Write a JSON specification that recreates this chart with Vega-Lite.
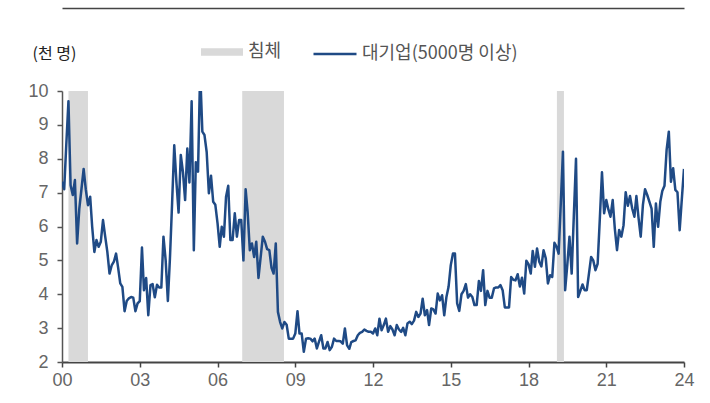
{
  "$schema": "https://vega.github.io/schema/vega-lite/v6.json",
  "width": 622,
  "height": 271,
  "autosize": "none",
  "padding": {"left": 62, "top": 91, "right": 26, "bottom": 41},
  "background": "white",
  "config": {"view": {"stroke": null}},
  "resolve": {"axis": {"x": "independent"}},
  "layer": [
    {
      "data": {"values": [
        {"s": "2000-04-01", "e": "2001-01-01", "k": "침체"},
        {"s": "2006-12-15", "e": "2008-07-25", "k": "침체"},
        {"s": "2019-02-05", "e": "2019-05-15", "k": "침체"}
      ]},
      "mark": {"type": "rect", "fill": "#d9d9d9"},
      "encoding": {
        "x": {"field": "s", "type": "temporal",
          "scale": {"type": "utc", "domain": [{"year": 2000, "utc": true}, {"year": 2024, "utc": true}]},
          "axis": {"orient": "top", "offset": 83, "labels": false, "ticks": false, "grid": false, "title": null, "domainColor": "#444", "domainWidth": 1.5}},
        "x2": {"field": "e"},
        "fill": {"field": "k", "type": "nominal",
          "scale": {"range": ["#d9d9d9"]},
          "legend": {"orient": "none", "legendX": 139, "legendY": -60, "title": null, "padding": 0,
            "symbolType": "M-1,-0.18H1V0.18H-1Z", "symbolSize": 1764, "symbolStrokeWidth": 0,
            "labelFont": "Noto Sans CJK KR", "labelFontSize": 18, "labelColor": "#555", "labelOffset": 5}}
      }
    },
    {
      "data": {"values": [
        {"d":"2000-01","v":7.32},{"d":"2000-02","v":7.1},{"d":"2000-03","v":8.4},{"d":"2000-04","v":9.7},{"d":"2000-05","v":7.22},{"d":"2000-06","v":6.93},{"d":"2000-07","v":7.37},{"d":"2000-08","v":5.5},{"d":"2000-09","v":6.53},{"d":"2000-10","v":7.1},{"d":"2000-11","v":7.7},{"d":"2000-12","v":7.1},
        {"d":"2001-01","v":6.63},{"d":"2001-02","v":6.88},{"d":"2001-03","v":6.0},{"d":"2001-04","v":5.25},{"d":"2001-05","v":5.6},{"d":"2001-06","v":5.4},{"d":"2001-07","v":5.55},{"d":"2001-08","v":6.19},{"d":"2001-09","v":5.7},{"d":"2001-10","v":5.25},{"d":"2001-11","v":4.61},{"d":"2001-12","v":4.85},
        {"d":"2002-01","v":4.96},{"d":"2002-02","v":5.2},{"d":"2002-03","v":4.8},{"d":"2002-04","v":4.32},{"d":"2002-05","v":4.22},{"d":"2002-06","v":3.5},{"d":"2002-07","v":3.8},{"d":"2002-08","v":3.88},{"d":"2002-09","v":3.92},{"d":"2002-10","v":3.9},{"d":"2002-11","v":3.5},{"d":"2002-12","v":3.73},
        {"d":"2003-01","v":3.8},{"d":"2003-02","v":5.38},{"d":"2003-03","v":4.12},{"d":"2003-04","v":4.48},{"d":"2003-05","v":3.38},{"d":"2003-06","v":4.27},{"d":"2003-07","v":4.3},{"d":"2003-08","v":3.91},{"d":"2003-09","v":4.28},{"d":"2003-10","v":4.2},{"d":"2003-11","v":4.2},{"d":"2003-12","v":5.7},
        {"d":"2004-01","v":5.0},{"d":"2004-02","v":3.8},{"d":"2004-03","v":5.05},{"d":"2004-04","v":6.7},{"d":"2004-05","v":8.4},{"d":"2004-06","v":7.3},{"d":"2004-07","v":6.41},{"d":"2004-08","v":8.11},{"d":"2004-09","v":7.6},{"d":"2004-10","v":6.78},{"d":"2004-11","v":8.3},{"d":"2004-12","v":7.3},
        {"d":"2005-01","v":9.7},{"d":"2005-02","v":5.3},{"d":"2005-03","v":7.9},{"d":"2005-04","v":7.62},{"d":"2005-05","v":10.6},{"d":"2005-06","v":8.8},{"d":"2005-07","v":8.7},{"d":"2005-08","v":8.2},{"d":"2005-09","v":6.98},{"d":"2005-10","v":7.5},{"d":"2005-11","v":6.73},{"d":"2005-12","v":6.64},
        {"d":"2006-01","v":6.1},{"d":"2006-02","v":5.4},{"d":"2006-03","v":5.99},{"d":"2006-04","v":5.7},{"d":"2006-05","v":6.88},{"d":"2006-06","v":7.2},{"d":"2006-07","v":5.6},{"d":"2006-08","v":5.6},{"d":"2006-09","v":6.39},{"d":"2006-10","v":5.7},{"d":"2006-11","v":6.19},{"d":"2006-12","v":6.19},
        {"d":"2007-01","v":5.0},{"d":"2007-02","v":7.1},{"d":"2007-03","v":6.43},{"d":"2007-04","v":5.3},{"d":"2007-05","v":5.5},{"d":"2007-06","v":5.1},{"d":"2007-07","v":5.55},{"d":"2007-08","v":4.48},{"d":"2007-09","v":5.1},{"d":"2007-10","v":5.7},{"d":"2007-11","v":5.55},{"d":"2007-12","v":5.33},
        {"d":"2008-01","v":5.3},{"d":"2008-02","v":4.78},{"d":"2008-03","v":4.61},{"d":"2008-04","v":5.5},{"d":"2008-05","v":3.48},{"d":"2008-06","v":3.18},{"d":"2008-07","v":2.99},{"d":"2008-08","v":3.18},{"d":"2008-09","v":3.1},{"d":"2008-10","v":2.69},{"d":"2008-11","v":2.69},{"d":"2008-12","v":2.69},
        {"d":"2009-01","v":2.84},{"d":"2009-02","v":3.5},{"d":"2009-03","v":2.84},{"d":"2009-04","v":2.84},{"d":"2009-05","v":2.3},{"d":"2009-06","v":2.69},{"d":"2009-07","v":2.7},{"d":"2009-08","v":2.69},{"d":"2009-09","v":2.61},{"d":"2009-10","v":2.69},{"d":"2009-11","v":2.4},{"d":"2009-12","v":2.6},
        {"d":"2010-01","v":2.79},{"d":"2010-02","v":2.4},{"d":"2010-03","v":2.4},{"d":"2010-04","v":2.59},{"d":"2010-05","v":2.35},{"d":"2010-06","v":2.45},{"d":"2010-07","v":2.69},{"d":"2010-08","v":2.62},{"d":"2010-09","v":2.62},{"d":"2010-10","v":2.61},{"d":"2010-11","v":2.54},{"d":"2010-12","v":2.99},
        {"d":"2011-01","v":2.49},{"d":"2011-02","v":2.39},{"d":"2011-03","v":2.59},{"d":"2011-04","v":2.62},{"d":"2011-05","v":2.64},{"d":"2011-06","v":2.79},{"d":"2011-07","v":2.86},{"d":"2011-08","v":2.89},{"d":"2011-09","v":2.96},{"d":"2011-10","v":2.92},{"d":"2011-11","v":2.89},{"d":"2011-12","v":2.89},
        {"d":"2012-01","v":2.84},{"d":"2012-02","v":2.99},{"d":"2012-03","v":2.79},{"d":"2012-04","v":3.28},{"d":"2012-05","v":2.94},{"d":"2012-06","v":3.09},{"d":"2012-07","v":3.28},{"d":"2012-08","v":2.89},{"d":"2012-09","v":3.06},{"d":"2012-10","v":2.96},{"d":"2012-11","v":2.79},{"d":"2012-12","v":3.09},
        {"d":"2013-01","v":2.96},{"d":"2013-02","v":2.89},{"d":"2013-03","v":3.01},{"d":"2013-04","v":2.79},{"d":"2013-05","v":3.14},{"d":"2013-06","v":3.19},{"d":"2013-07","v":3.12},{"d":"2013-08","v":3.22},{"d":"2013-09","v":3.48},{"d":"2013-10","v":3.33},{"d":"2013-11","v":3.43},{"d":"2013-12","v":3.87},
        {"d":"2014-01","v":3.38},{"d":"2014-02","v":3.53},{"d":"2014-03","v":3.09},{"d":"2014-04","v":3.58},{"d":"2014-05","v":3.55},{"d":"2014-06","v":3.43},{"d":"2014-07","v":4.02},{"d":"2014-08","v":3.82},{"d":"2014-09","v":3.97},{"d":"2014-10","v":3.38},{"d":"2014-11","v":3.92},{"d":"2014-12","v":4.22},
        {"d":"2015-01","v":4.86},{"d":"2015-02","v":5.2},{"d":"2015-03","v":5.2},{"d":"2015-04","v":3.73},{"d":"2015-05","v":3.51},{"d":"2015-06","v":4.0},{"d":"2015-07","v":4.1},{"d":"2015-08","v":4.3},{"d":"2015-09","v":3.9},{"d":"2015-10","v":4.0},{"d":"2015-11","v":3.92},{"d":"2015-12","v":3.68},
        {"d":"2016-01","v":3.68},{"d":"2016-02","v":4.39},{"d":"2016-03","v":4.1},{"d":"2016-04","v":4.71},{"d":"2016-05","v":3.68},{"d":"2016-06","v":4.1},{"d":"2016-07","v":3.9},{"d":"2016-08","v":3.9},{"d":"2016-09","v":4.17},{"d":"2016-10","v":4.2},{"d":"2016-11","v":4.2},{"d":"2016-12","v":4.27},
        {"d":"2017-01","v":4.12},{"d":"2017-02","v":3.61},{"d":"2017-03","v":3.61},{"d":"2017-04","v":3.61},{"d":"2017-05","v":4.51},{"d":"2017-06","v":4.43},{"d":"2017-07","v":4.41},{"d":"2017-08","v":4.59},{"d":"2017-09","v":4.23},{"d":"2017-10","v":4.49},{"d":"2017-11","v":4.02},{"d":"2017-12","v":4.99},
        {"d":"2018-01","v":4.89},{"d":"2018-02","v":4.61},{"d":"2018-03","v":5.28},{"d":"2018-04","v":4.81},{"d":"2018-05","v":5.35},{"d":"2018-06","v":4.96},{"d":"2018-07","v":4.82},{"d":"2018-08","v":5.3},{"d":"2018-09","v":5.06},{"d":"2018-10","v":4.32},{"d":"2018-11","v":4.56},{"d":"2018-12","v":4.51},
        {"d":"2019-01","v":5.52},{"d":"2019-02","v":5.4},{"d":"2019-03","v":5.2},{"d":"2019-04","v":6.7},{"d":"2019-05","v":8.21},{"d":"2019-06","v":4.12},{"d":"2019-07","v":4.86},{"d":"2019-08","v":5.7},{"d":"2019-09","v":4.61},{"d":"2019-10","v":6.3},{"d":"2019-11","v":8.0},{"d":"2019-12","v":3.92},
        {"d":"2020-01","v":4.1},{"d":"2020-02","v":4.29},{"d":"2020-03","v":4.12},{"d":"2020-04","v":4.12},{"d":"2020-05","v":4.6},{"d":"2020-06","v":5.1},{"d":"2020-07","v":5.0},{"d":"2020-08","v":4.71},{"d":"2020-09","v":4.9},{"d":"2020-10","v":6.2},{"d":"2020-11","v":7.6},{"d":"2020-12","v":6.39},
        {"d":"2021-01","v":6.78},{"d":"2021-02","v":6.49},{"d":"2021-03","v":6.29},{"d":"2021-04","v":6.78},{"d":"2021-05","v":5.94},{"d":"2021-06","v":5.3},{"d":"2021-07","v":5.9},{"d":"2021-08","v":5.7},{"d":"2021-09","v":6.04},{"d":"2021-10","v":7.01},{"d":"2021-11","v":6.61},{"d":"2021-12","v":6.9},
        {"d":"2022-01","v":6.53},{"d":"2022-02","v":6.29},{"d":"2022-03","v":6.9},{"d":"2022-04","v":6.24},{"d":"2022-05","v":5.7},{"d":"2022-06","v":6.64},{"d":"2022-07","v":7.1},{"d":"2022-08","v":6.93},{"d":"2022-09","v":6.73},{"d":"2022-10","v":6.53},{"d":"2022-11","v":5.4},{"d":"2022-12","v":6.68},
        {"d":"2023-01","v":5.99},{"d":"2023-02","v":6.73},{"d":"2023-03","v":7.05},{"d":"2023-04","v":7.2},{"d":"2023-05","v":8.26},{"d":"2023-06","v":8.8},{"d":"2023-07","v":7.32},{"d":"2023-08","v":7.72},{"d":"2023-09","v":7.08},{"d":"2023-10","v":7.01},{"d":"2023-11","v":5.89},{"d":"2023-12","v":6.8},
        {"d":"2024-01","v":7.7}
      ]},
      "mark": {"type": "line", "strokeWidth": 2.5, "clip": true, "strokeJoin": "round"},
      "encoding": {
        "x": {"field": "d", "type": "temporal",
          "scale": {"type": "utc", "domain": [{"year": 2000, "utc": true}, {"year": 2024, "utc": true}]},
          "axis": {"orient": "bottom", "title": null, "grid": false, "format": "%y", "labelFlush": false,
            "values": [{"year": 2000, "utc": true}, {"year": 2003, "utc": true}, {"year": 2006, "utc": true}, {"year": 2009, "utc": true}, {"year": 2012, "utc": true}, {"year": 2015, "utc": true}, {"year": 2018, "utc": true}, {"year": 2021, "utc": true}, {"year": 2024, "utc": true}],
            "domainColor": "#444", "domainWidth": 2, "tickColor": "#444", "tickSize": 5, "tickWidth": 1.5,
            "labelFont": "Liberation Sans Narrow, Liberation Sans, sans-serif", "labelFontSize": 18, "labelColor": "#666", "labelPadding": 4}},
        "y": {"field": "v", "type": "quantitative",
          "scale": {"domain": [2, 10], "nice": false, "zero": false},
          "axis": {"values": [2, 3, 4, 5, 6, 7, 8, 9, 10], "grid": false, "tickSize": 5, "labelPadding": 9,
            "domainColor": "#555", "domainWidth": 1.5, "tickColor": "#555", "tickWidth": 1.5,
            "labelFont": "Liberation Sans Narrow, Liberation Sans, sans-serif", "labelFontSize": 18, "labelColor": "#666",
            "title": "(천 명)", "titleAngle": 0, "titleX": -30, "titleY": -33, "titleAlign": "left", "titleBaseline": "alphabetic",
            "titleFont": "Noto Sans CJK KR", "titleFontSize": 16, "titleFontWeight": "normal", "titleColor": "#222"}},
        "stroke": {"datum": "대기업(5000명 이상)", "type": "nominal",
          "scale": {"range": ["#1f4a85"]},
          "legend": {"orient": "none", "legendX": 250, "legendY": -60, "title": null, "padding": 0,
            "symbolType": "stroke", "symbolSize": 1850, "symbolStrokeWidth": 2.5,
            "labelFont": "Noto Sans CJK KR", "labelFontSize": 18, "labelColor": "#555", "labelOffset": 4}}
      }
    }
  ]
}
